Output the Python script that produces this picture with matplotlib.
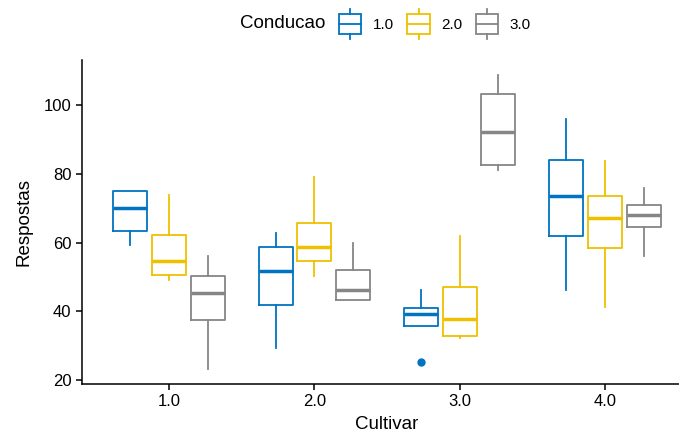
import matplotlib
matplotlib.use('Agg')
import matplotlib.pyplot as plt
from matplotlib.legend_handler import HandlerBase
from matplotlib.lines import Line2D
from matplotlib.patches import Rectangle

plt.rcParams['font.family'] = ['Liberation Sans', 'DejaVu Sans']

# box summaries, per cultivar, per conducao
cultivars = ['1.0', '2.0', '3.0', '4.0']
conducao = ['1.0', '2.0', '3.0']
colors = ['#0073C2', '#EFC000', '#868686']

# [whislo, q1, median, q3, whishi]
stats_c1 = [59.3, 63.5, 70.0, 75.0, 75.0], [49.2, 50.7, 54.7, 62.1, 73.9], [23.4, 37.6, 45.4, 50.2, 56.0]
stats_c2 = [29.4, 42.0, 51.8, 58.6, 62.9], [50.2, 54.6, 58.7, 65.6, 79.0], [43.3, 43.3, 46.2, 51.9, 60.0]
stats_c3 = [35.7, 35.7, 39.3, 41.0, 46.1], [32.3, 33.0, 37.8, 47.2, 62.0], [81.1, 82.4, 92.0, 103.0, 108.7]
stats_c4 = [46.3, 61.9, 73.5, 84.0, 95.9], [41.3, 58.3, 67.2, 73.5, 83.8], [56.2, 64.4, 68.1, 70.8, 75.8]
outliers = {(2, 0): [25.2]}

all_stats = [stats_c1, stats_c2, stats_c3, stats_c4]

fig = plt.figure(figsize=(6.79, 4.38), dpi=100)
ax = fig.add_axes([82 / 679, 1 - 383.5 / 438, (692 - 82) / 679, (383.5 - 60) / 438])

dodge = 0.8 / 3
width = 0.7 / 3
for i, group in enumerate(all_stats):
    for j, s in enumerate(group):
        st = dict(whislo=s[0], q1=s[1], med=s[2], q3=s[3], whishi=s[4],
                  fliers=outliers.get((i, j), []))
        c = colors[j]
        ax.bxp([st], positions=[i + 1 + (j - 1) * dodge], widths=width,
               showcaps=False, patch_artist=False,
               boxprops=dict(color=c, linewidth=1.3),
               whiskerprops=dict(color=c, linewidth=1.3),
               medianprops=dict(color=c, linewidth=2.5),
               flierprops=dict(marker='o', markerfacecolor=c, markeredgecolor=c,
                               markersize=5))

ax.set_xlim(0.4, 4.6)
ax.set_ylim(19.1, 113.0)
ax.set_xticks([1, 2, 3, 4])
ax.set_xticklabels(cultivars)
ax.set_yticks([20, 40, 60, 80, 100])
for side in ['top', 'right']:
    ax.spines[side].set_visible(False)
for side in ['left', 'bottom']:
    ax.spines[side].set_linewidth(1.1)
ax.tick_params(direction='out', length=4, width=1.1, labelsize=12, colors='black')
ax.set_xlabel('Cultivar', fontsize=13.5, labelpad=5)
ax.set_ylabel('Respostas', fontsize=13.5, labelpad=8)


class BoxHandler(HandlerBase):
    # boxplot key glyph, sizes in points around the key centre
    def create_artists(self, legend, orig_handle, xdescent, ydescent,
                       width, height, fontsize, trans):
        c = orig_handle.get_color()
        x0 = -xdescent
        xc = x0 + width / 2
        yc = 0.36 * fontsize
        bh, wh = 7.2, 10.8
        rect = Rectangle((x0, yc - bh), width, 2 * bh,
                         fill=False, edgecolor=c, linewidth=1.3, transform=trans)
        med = Line2D([x0, x0 + width], [yc, yc], color=c, linewidth=1.3, transform=trans)
        wt = Line2D([xc, xc], [yc + bh, yc + wh], color=c, linewidth=1.3, transform=trans)
        wb = Line2D([xc, xc], [yc - wh, yc - bh], color=c, linewidth=1.3, transform=trans)
        return [rect, med, wt, wb]


handles = [Line2D([], [], color=c) for c in colors]
fig.text(240 / 679, 1 - 23 / 438, 'Conducao', fontsize=13.5, va='center', ha='left')
fig.legend(handles, conducao, handler_map={Line2D: BoxHandler()},
           loc='center left', bbox_to_anchor=(339 / 679, 1 - 24.5 / 438),
           ncol=3, frameon=False, fontsize=11, handlelength=1.45, handleheight=1.0,
           handletextpad=0.75, columnspacing=0.9, borderaxespad=0, borderpad=0)

fig.savefig('out.png', dpi=100)
